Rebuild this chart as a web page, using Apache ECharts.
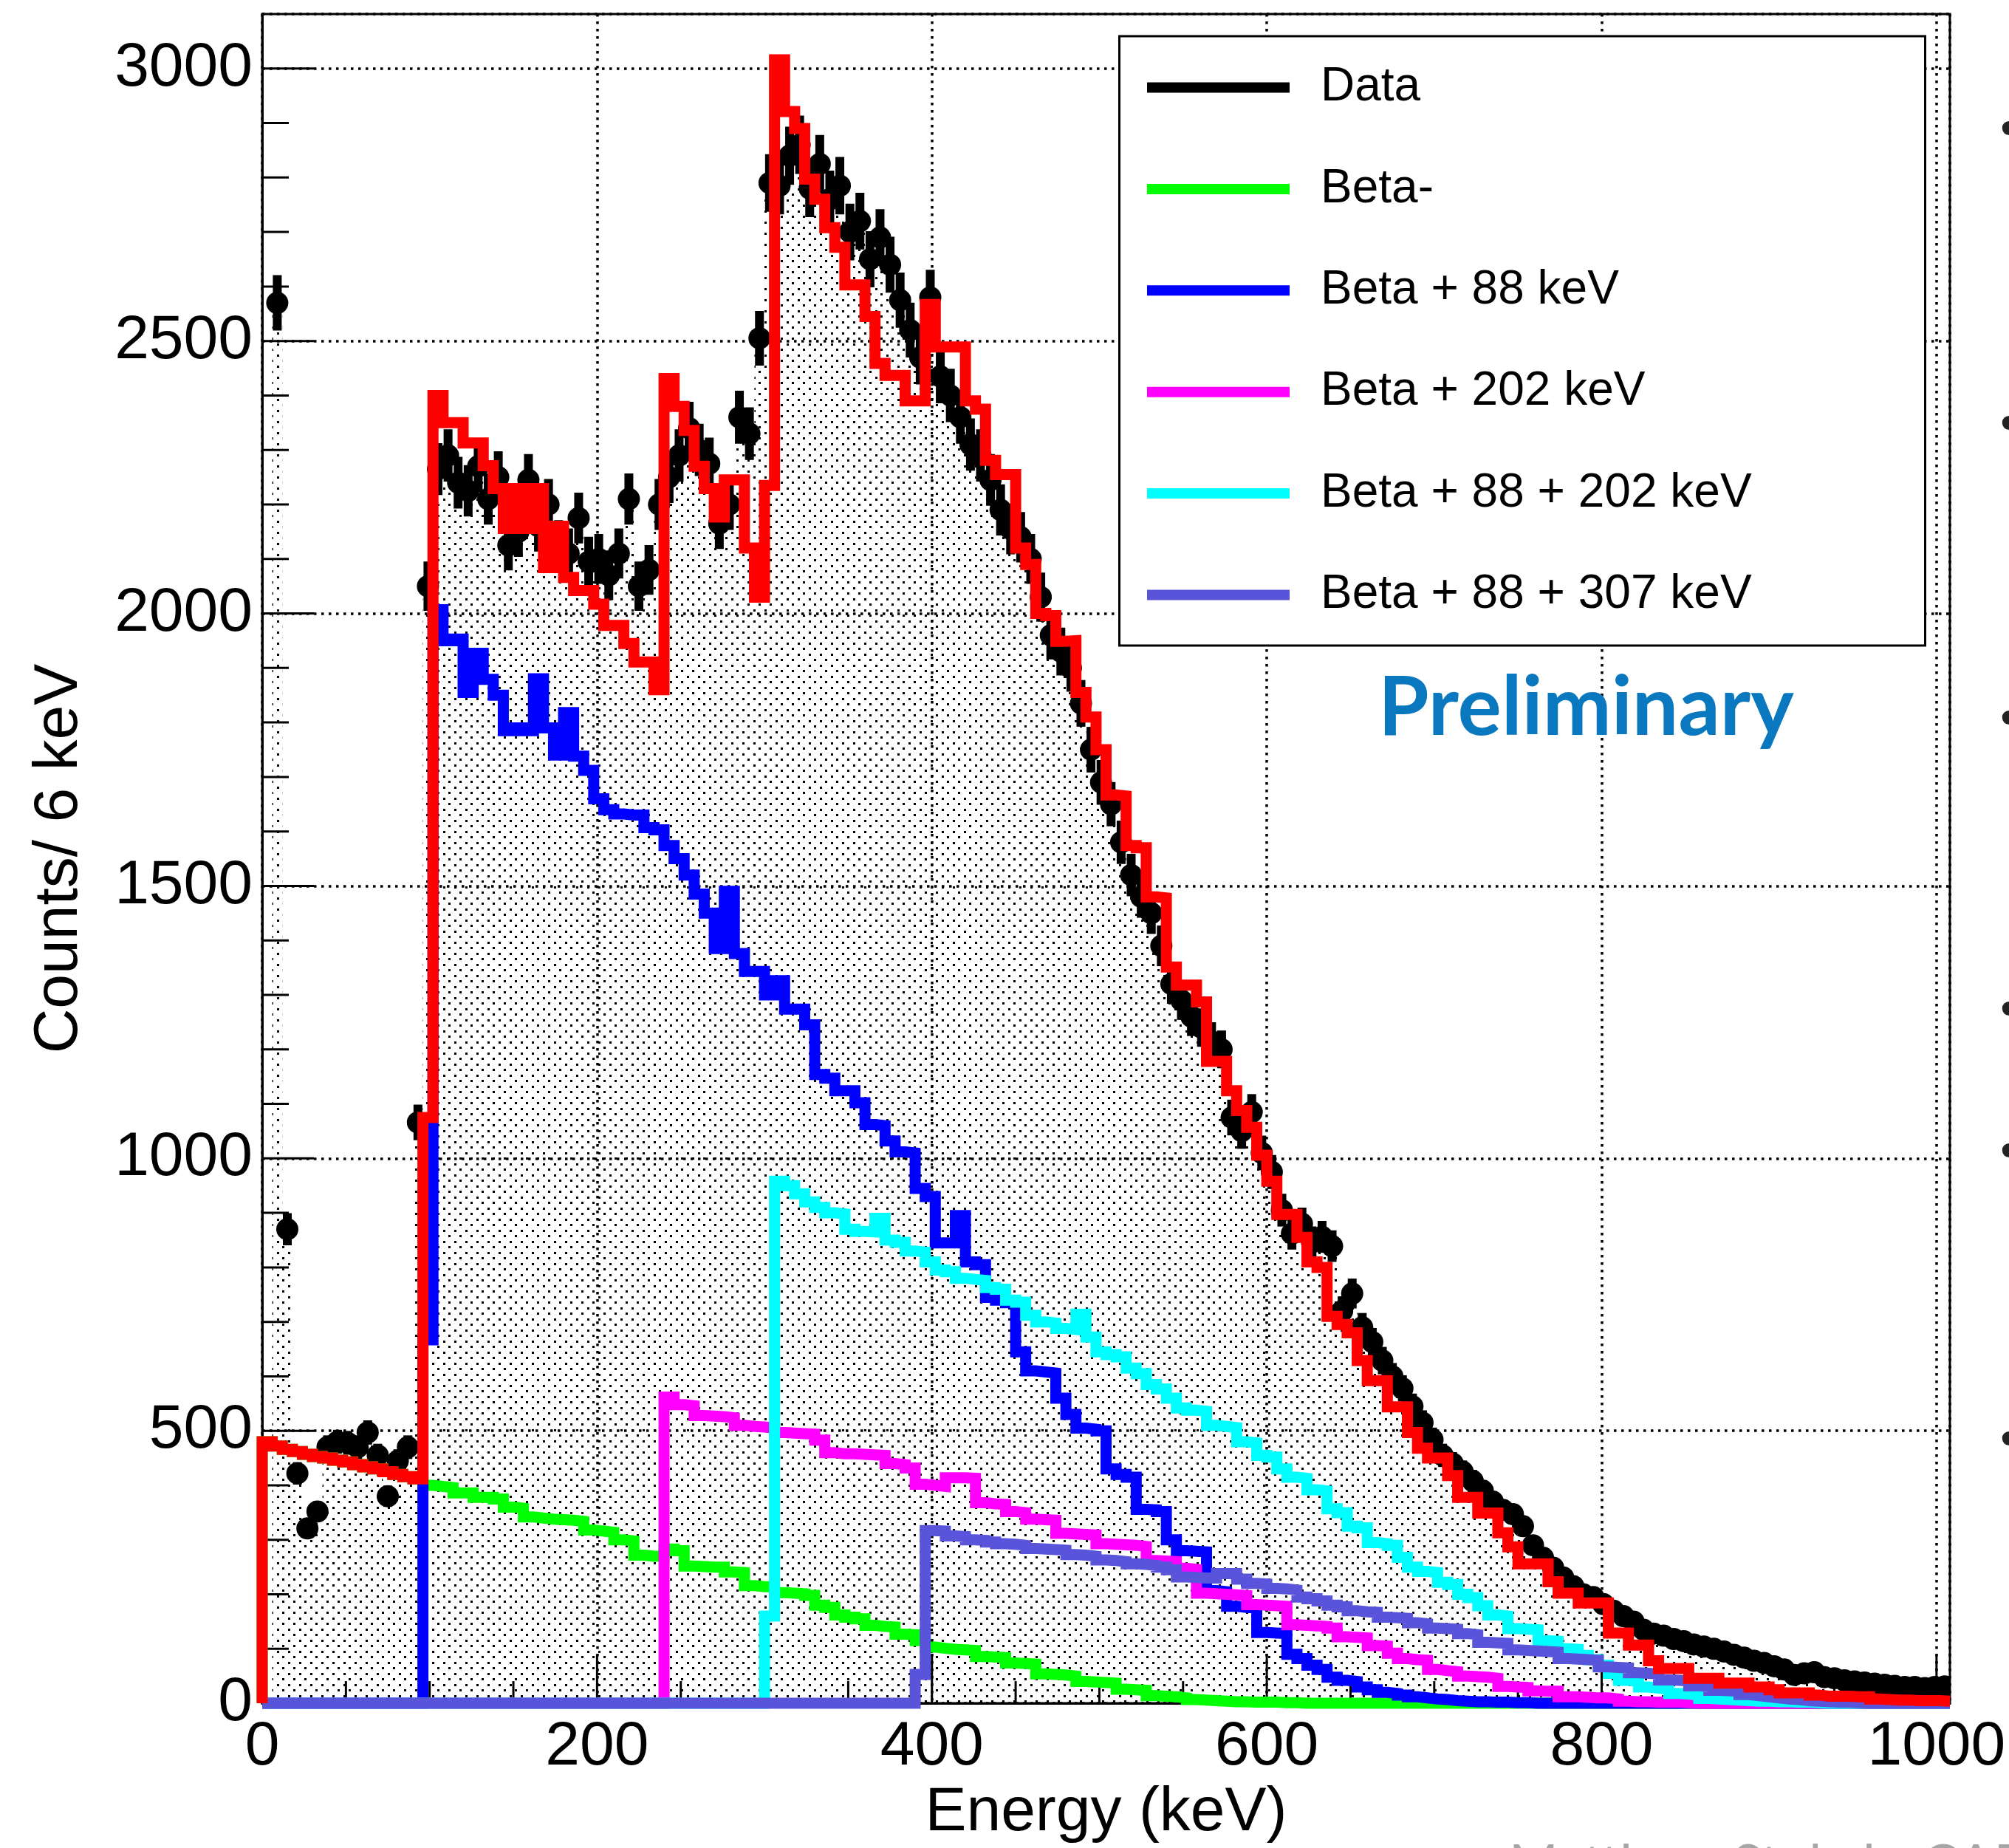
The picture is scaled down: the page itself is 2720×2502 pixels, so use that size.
<!DOCTYPE html>
<html>
<head>
<meta charset="utf-8">
<script src="https://cdn.jsdelivr.net/npm/echarts@6/dist/echarts.min.js"></script>
<style>
html,body{margin:0;padding:0;background:#fff;}
#chart{width:2720px;height:2502px;}
</style>
</head>
<body>
<div id="chart"></div>
<script>
// ---------------- data (counts per 6 keV bin, 168 bins from 0 to 1008 keV) ----------------
const binWidth = 6;
const xTickValues = [0,50,100,150,200,250,300,350,400,450,500,550,600,650,700,750,800,850,900,950,1000];
const yTickValues = [0,100,200,300,400,500,600,700,800,900,1000,1100,1200,1300,1400,1500,1600,1700,1800,1900,2000,2100,2200,2300,2400,2500,2600,2700,2800,2900,3000];
const xTickLabels = [0,200,400,600,800,1000];
const yTickLabels = [0,500,1000,1500,2000,2500,3000];

const dataCounts = [
0,2570,870,422,321,352,470,480,478,470,497,455,380,445,470,1066,2050,2265,2290,2240,
2225,2270,2210,2250,2125,2150,2245,2160,2200,2125,2110,2175,2095,2100,2070,2110,2210,2050,2080,2200,
2250,2290,2340,2300,2275,2165,2200,2360,2330,2505,2790,2785,2840,2860,2780,2825,2760,2785,2700,2720,
2650,2690,2640,2575,2520,2470,2580,2435,2400,2360,2310,2290,2245,2190,2155,2140,2100,2030,1960,1930,
1900,1835,1750,1690,1650,1580,1520,1480,1450,1390,1320,1290,1260,1240,1215,1200,1075,1050,1085,1010,
975,905,862,880,846,856,839,720,752,690,663,629,600,578,545,515,484,455,440,425,
408,390,370,355,347,325,290,267,249,231,215,200,195,182,170,160,150,135,128,124,
118,114,108,104,100,95,89,84,78,74,68,62,52,55,57,48,46,42,40,38,
36,34,32,30,30,28,30,31
];

const totalFit = [
480,472,466,462,457,453,450,446,443,438,434,430,425,420,416,412,1075,2400,2350,2350,
2313,2313,2271,2229,2156,2229,2156,2229,2084,2160,2066,2042,2042,2017,1978,1978,1945,1911,1911,1860,
2431,2380,2336,2270,2229,2177,2245,2245,2120,2030,2235,3016,2921,2890,2797,2760,2708,2672,2603,2603,
2545,2459,2437,2437,2390,2390,2567,2489,2489,2489,2390,2375,2281,2255,2255,2120,2090,2000,1996,1949,
1950,1855,1810,1750,1667,1665,1574,1570,1480,1478,1351,1318,1318,1287,1178,1178,1124,1088,1057,1006,
958,897,897,855,810,800,710,695,680,629,592,592,544,544,497,468,450,450,418,378,
378,349,349,313,287,256,256,256,223,202,202,184,184,184,129,129,107,107,78,64,
64,64,46,46,46,37,37,37,30,30,25,19,19,19,15,13,13,13,12,12,
8,7,6,6,5,5,5,4
];

const betaMinus = [
480,472,466,462,457,453,450,446,443,438,434,430,425,420,416,412,400,398,396,386,
386,378,378,375,360,358,342,340,338,337,336,334,318,316,314,300,298,272,270,270,
283,280,252,251,250,250,241,240,216,214,214,203,202,201,198,180,176,162,158,155,
143,141,140,127,126,115,103,101,99,98,97,86,85,84,74,73,72,54,53,52,
50,40,39,38,37,26,25,24,14,13,12,10,7,6,5,4,3,3,2,2,
2,1,1,0,0,0,0,0,0,0,0,0,0,0,0,0,0,0,0,0,
0,0,0,0,0,0,0,0,0,0,0,0,0,0,0,0,0,0,0,0,
0,0,0,0,0,0,0,0,0,0,0,0,0,0,0,0,0,0,0,0,
0,0,0,0,0,0,0,0
];

const beta88 = [
0,0,0,0,0,0,0,0,0,0,0,0,0,0,0,0,667,2007,1950,1953,
1855,1927,1879,1850,1785,1790,1785,1880,1790,1740,1818,1738,1712,1660,1640,1632,1630,1630,1607,1603,
1574,1550,1520,1485,1450,1385,1490,1376,1343,1343,1300,1326,1274,1274,1245,1154,1147,1124,1124,1102,
1062,1060,1032,1012,1010,945,930,845,845,895,810,805,745,740,735,645,610,608,606,560,
530,505,503,500,430,420,415,356,355,352,300,280,279,278,207,205,178,176,175,130,
129,128,90,82,70,62,48,42,40,30,25,20,18,15,12,10,8,7,5,4,
3,3,2,2,1,1,0,0,0,0,0,0,0,0,0,0,0,0,0,0,
0,0,0,0,0,0,0,0,0,0,0,0,0,0,0,0,0,0,0,0,
0,0,0,0,0,0,0,0
];

const beta202 = [
0,0,0,0,0,0,0,0,0,0,0,0,0,0,0,0,0,0,0,0,
0,0,0,0,0,0,0,0,0,0,0,0,0,0,0,0,0,0,0,0,
562,548,546,528,527,526,524,510,508,507,505,497,496,495,494,483,460,458,458,457,
456,455,440,438,432,402,400,398,414,414,413,368,366,365,352,350,338,337,336,312,
311,310,309,293,292,291,290,288,262,261,260,248,246,202,201,200,199,198,181,180,
179,178,144,143,142,141,138,122,121,120,106,105,92,82,80,79,62,60,58,50,
49,48,46,31,30,29,23,22,22,12,12,11,10,10,8,4,3,3,2,2,
2,1,0,0,0,0,0,0,0,0,0,0,0,0,0,0,0,0,0,0,
0,0,0,0,0,0,0,0
];

const beta88_202 = [
0,0,0,0,0,0,0,0,0,0,0,0,0,0,0,0,0,0,0,0,
0,0,0,0,0,0,0,0,0,0,0,0,0,0,0,0,0,0,0,0,
0,0,0,0,0,0,0,0,0,0,160,958,950,935,920,910,900,898,870,866,
865,890,850,846,830,828,810,795,792,780,778,776,763,760,740,736,712,700,698,688,
686,714,672,645,640,636,615,605,585,577,560,542,538,536,510,508,506,480,478,455,
452,430,415,413,392,390,357,350,325,322,295,293,290,268,250,242,240,222,218,200,
194,179,162,160,137,136,135,115,114,100,99,88,80,70,55,42,40,30,28,26,
18,17,15,9,8,7,6,5,4,4,3,3,2,2,1,0,0,0,0,0,
0,0,0,0,0,0,0,0
];

const beta88_307 = [
0,0,0,0,0,0,0,0,0,0,0,0,0,0,0,0,0,0,0,0,
0,0,0,0,0,0,0,0,0,0,0,0,0,0,0,0,0,0,0,0,
0,0,0,0,0,0,0,0,0,0,0,0,0,0,0,0,0,0,0,0,
0,0,0,0,0,53,317,316,307,306,300,299,296,293,292,290,284,283,282,281,
273,272,270,263,262,260,256,255,253,250,245,232,231,230,230,238,238,228,220,219,
211,210,208,195,192,188,180,177,170,168,167,158,157,156,148,146,138,137,136,128,
126,112,111,110,98,97,96,95,94,82,81,80,79,67,66,65,56,55,54,43,
42,41,32,31,24,23,22,16,14,12,10,8,7,5,4,3,2,2,1,0,
0,0,0,0,0,0,0,0
];

// ---------------- helpers ----------------
function histPoints(counts){
  const pts = [[0, 0]];
  counts.forEach((v, i) => pts.push([i * binWidth, v]));
  pts.push([counts.length * binWidth, counts[counts.length - 1]]);
  return pts;
}

function makeDotPattern(){
  const c = document.createElement('canvas');
  c.width = 15; c.height = 15;
  const g = c.getContext('2d');
  g.fillStyle = '#000';
  g.fillRect(0, 0, 3, 3);
  g.fillRect(7, 7, 3, 3);
  return c;
}

const FONT = "'Liberation Sans', Arial, Helvetica, sans-serif";

function histSeries(name, counts, color){
  return {
    name: name,
    type: 'line',
    step: 'end',
    data: histPoints(counts),
    showSymbol: false,
    symbol: 'none',
    clip: false,
    color: color,
    itemStyle: {color: color},
    lineStyle: {color: color, width: 15, cap: 'butt', join: 'miter'},
    animation: false,
    silent: true,
    z: 3
  };
}

const chart = echarts.init(document.getElementById('chart'), null, {renderer: 'canvas'});

const option = {
  animation: false,
  backgroundColor: '#ffffff',
  grid: {left: 355, top: 19, width: 2285, height: 2289, show: true, borderColor: '#000', borderWidth: 3, backgroundColor: 'transparent'},
  xAxis: {
    type: 'value', min: 0, max: 1008, interval: 200,
    axisLine: {show: true, lineStyle: {color: '#000', width: 3}},
    axisTick: {show: false},
    splitLine: {show: true, lineStyle: {color: '#000', width: 3.5, type: [3.5, 6.5]}},
    axisLabel: {
      fontSize: 84, fontFamily: FONT, color: '#000', margin: 18,
      formatter: v => (xTickLabels.indexOf(v) >= 0 ? String(v) : '')
    },
    name: 'Energy (keV)', nameLocation: 'middle', nameGap: 105,
    nameTextStyle: {fontSize: 84, fontFamily: FONT, color: '#000'}
  },
  yAxis: {
    type: 'value', min: 0, max: 3100, interval: 500,
    axisLine: {show: true, lineStyle: {color: '#000', width: 3}},
    axisTick: {show: false},
    splitLine: {show: true, lineStyle: {color: '#000', width: 3.5, type: [3.5, 6.5]}},
    axisLabel: {
      fontSize: 84, fontFamily: FONT, color: '#000', margin: 13,
      formatter: v => (yTickLabels.indexOf(v) >= 0 ? String(v) : '')
    },
    name: 'Counts/ 6 keV', nameLocation: 'middle', nameRotate: 90, nameGap: 232,
    nameTextStyle: {fontSize: 84, fontFamily: FONT, color: '#000'}
  },
  legend: {
    orient: 'vertical', left: 1553, top: 72.5, padding: 0,
    itemWidth: 193, itemHeight: 14, itemGap: 45.4, icon: 'rect',
    z: 60,
    textStyle: {fontSize: 64, fontFamily: FONT, color: '#000', lineHeight: 64, padding: [28, 0, 0, 37]},
    data: [
      {name: 'Data', itemStyle: {color: '#000000'}},
      {name: 'Beta-', itemStyle: {color: '#00ff00'}},
      {name: 'Beta + 88 keV', itemStyle: {color: '#0000ff'}},
      {name: 'Beta + 202 keV', itemStyle: {color: '#ff00ff'}},
      {name: 'Beta + 88 + 202 keV', itemStyle: {color: '#00ffff'}},
      {name: 'Beta + 88 + 307 keV', itemStyle: {color: '#5954d9'}}
    ]
  },
  graphic: [
    {type: 'rect', z: 50, shape: {x: 1515.5, y: 49, width: 1091, height: 825},
     style: {fill: '#ffffff', stroke: '#000', lineWidth: 3}},
    {type: 'text', z: 55, x: 1866, y: 959,
     style: {text: 'Preliminary', fontSize: 111, fontWeight: 'bold', fontFamily: 'Lato, "Open Sans", sans-serif', fill: '#0A78BE', verticalAlign: 'middle', align: 'left'}},
    {type: 'text', z: 55, x: 2043, y: 2490,
     style: {text: 'Matthew Stukel - CAP 2019', fontSize: 72, fontFamily: 'Lato, sans-serif', fill: '#a6a6a6', verticalAlign: 'top', align: 'left'}}
  ].concat([178, 577, 976, 1370, 1562, 1952].map(yy => ({
    type: 'text', z: 55, x: 2708, y: yy,
    style: {text: '\u2022', fontSize: 70, fontFamily: FONT, fill: '#222', verticalAlign: 'middle', align: 'left'}
  }))),
  series: [
    {
      name: 'DataFill', type: 'line', step: 'end', data: histPoints(dataCounts),
      showSymbol: false, symbol: 'none', clip: true, silent: true,
      lineStyle: {width: 0, opacity: 0},
      areaStyle: {color: {image: makeDotPattern(), repeat: 'repeat'}, opacity: 1},
      z: 1
    },
    {
      name: 'xTicks', type: 'custom', silent: true, clip: false, z: 2,
      data: xTickValues.map(v => [v, 0, xTickLabels.indexOf(v) >= 0 ? 1 : 0]),
      renderItem: function(params, api){
        const p = api.coord([api.value(0), 0]);
        const len = api.value(2) ? 66 : 30;
        return {type: 'line', shape: {x1: p[0], y1: p[1], x2: p[0], y2: p[1] - len}, style: {stroke: '#000', lineWidth: 3}};
      }
    },
    {
      name: 'yTicks', type: 'custom', silent: true, clip: false, z: 2,
      data: yTickValues.map(v => [0, v, yTickLabels.indexOf(v) >= 0 ? 1 : 0]),
      renderItem: function(params, api){
        const p = api.coord([0, api.value(1)]);
        const len = api.value(2) ? 70 : 36;
        return {type: 'line', shape: {x1: p[0], y1: p[1], x2: p[0] + len, y2: p[1]}, style: {stroke: '#000', lineWidth: 3}};
      }
    },
    {
      name: 'Data', type: 'custom', silent: true, clip: true, z: 2, color: '#000',
      data: dataCounts.map((v, i) => [i * binWidth + binWidth / 2, v]).filter(d => d[1] > 0),
      renderItem: function(params, api){
        const x = api.value(0), v = api.value(1), e = Math.sqrt(v);
        const c = api.coord([x, v]);
        const t = api.coord([x, v + e]);
        const b = api.coord([x, v - e]);
        return {type: 'group', children: [
          {type: 'line', shape: {x1: c[0], y1: t[1], x2: c[0], y2: b[1]}, style: {stroke: '#000', lineWidth: 12}},
          {type: 'circle', shape: {cx: c[0], cy: c[1], r: 15}, style: {fill: '#000'}}
        ]};
      }
    },
    histSeries('Beta-', betaMinus, '#00ff00'),
    histSeries('Beta + 88 keV', beta88, '#0000ff'),
    histSeries('Beta + 202 keV', beta202, '#ff00ff'),
    histSeries('Beta + 88 + 202 keV', beta88_202, '#00ffff'),
    histSeries('Beta + 88 + 307 keV', beta88_307, '#5954d9'),
    histSeries('Total', totalFit, '#ff0000')
  ]
};

chart.setOption(option);
</script>
</body>
</html>
